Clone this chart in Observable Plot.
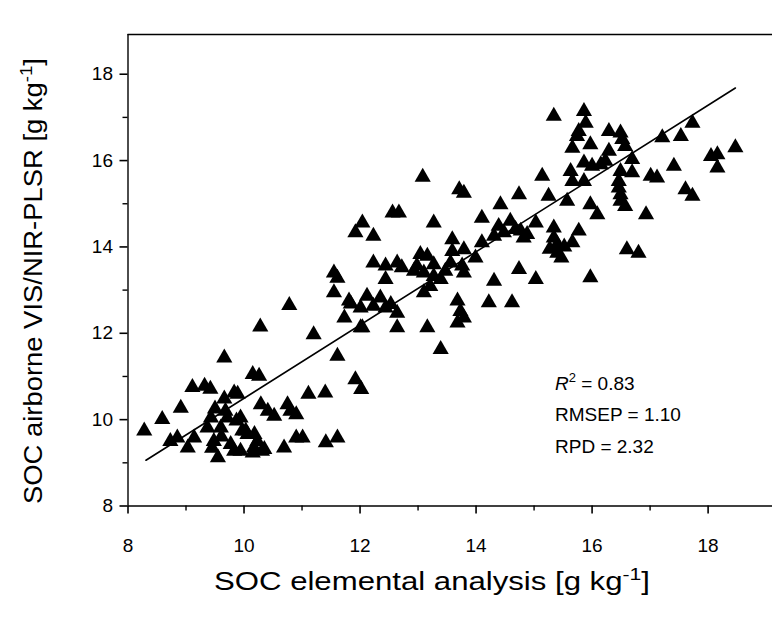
<!DOCTYPE html>
<html><head><meta charset="utf-8">
<script src="https://cdn.jsdelivr.net/npm/d3@7"></script>
<script src="https://cdn.jsdelivr.net/npm/@observablehq/plot@0.6"></script>
<style>body{margin:0;background:#fff;} svg{display:block;}</style>
</head><body><div id="chart"></div>
<script>
// SOC elemental analysis (x) vs airborne VIS/NIR-PLSR prediction (y), g/kg
const socElemental = [
8.28,8.59,8.91,9.11,9.32,9.42,9.66,9.66,9.83,8.85,9.03,9.14,9.37,9.43,9.48,9.55,9.60,9.71,9.77,9.83,9.97,9.45,9.68,9.87,9.61,9.50,8.73,
10.28,10.15,10.26,9.89,10.29,10.41,10.52,10.75,10.80,10.90,9.94,10.03,10.18,10.23,10.31,10.15,9.94,10.06,10.17,10.35,10.69,10.90,11.01,11.41,11.61,11.11,11.40,11.61,11.92,12.02,10.78,11.20,
11.73,11.84,12.01,11.55,11.61,11.55,11.81,12.12,12.35,12.01,12.23,12.44,12.53,12.64,12.04,12.64,13.16,13.39,12.23,12.44,12.64,12.72,12.98,12.44,12.93,13.10,13.27,13.39,13.21,13.10,13.04,13.16,13.27,13.56,13.76,13.79,13.47,13.59,13.79,13.59,13.99,14.10,14.31,12.04,11.92,12.23,12.56,12.67,13.27,13.08,13.71,13.79,14.10,14.42,14.74,14.39,14.59,14.48,14.68,14.82,13.68,13.73,13.79,13.68,14.22,14.62,14.31,14.74,15.03,15.97,
15.14,15.25,15.57,15.97,16.09,15.34,15.86,15.89,15.77,15.74,16.29,16.49,16.52,16.57,15.66,15.97,16.29,16.69,17.21,17.53,17.73,15.86,16.00,16.15,16.23,15.63,15.66,15.86,16.49,16.69,16.46,16.46,16.49,16.49,16.57,17.01,17.12,17.41,18.05,18.16,18.16,17.61,17.73,16.93,15.03,15.34,14.88,15.34,15.40,15.77,15.66,15.40,16.60,16.80,14.77,15.47,15.52,15.27,18.47
];
const socPredicted = [
9.74,10.01,10.27,10.75,10.78,10.71,11.43,10.48,10.62,9.58,9.35,9.58,9.81,10.04,9.50,9.12,9.81,10.04,9.43,9.27,9.74,9.34,10.20,9.97,9.60,10.25,9.50,
12.15,11.05,11.01,10.59,10.35,10.20,10.08,10.35,10.20,10.12,10.04,9.74,9.66,9.50,9.27,9.23,9.27,9.66,9.35,9.31,9.35,9.58,9.58,9.47,9.58,10.59,10.62,11.47,10.93,10.70,12.65,11.97,
12.36,12.68,12.13,13.40,13.28,12.94,12.75,12.86,12.82,12.59,12.63,12.59,12.67,12.47,12.13,12.13,12.13,11.63,13.63,13.56,13.63,13.52,13.56,13.25,13.44,13.40,13.32,13.25,13.09,12.94,13.83,13.79,13.59,13.63,13.56,13.40,13.44,14.17,13.94,13.90,13.75,14.10,14.25,14.56,14.33,14.25,14.79,14.79,14.56,15.62,15.33,15.25,14.67,14.98,15.21,14.48,14.60,14.33,14.41,14.21,12.75,12.51,12.36,12.24,12.71,12.71,13.21,13.48,13.25,13.29,
15.64,15.18,15.06,14.98,14.75,17.03,17.14,16.87,16.68,16.56,16.68,16.64,16.49,16.33,16.29,16.37,16.22,16.03,16.53,16.56,16.87,15.95,15.87,15.91,15.99,15.75,15.52,15.52,15.75,15.72,15.52,15.37,15.21,15.06,14.94,15.64,15.60,15.87,16.10,16.14,15.83,15.33,15.18,14.75,14.56,14.44,14.29,14.21,14.06,14.37,14.10,13.86,13.94,13.86,14.37,13.75,14.00,13.95,16.30
];
// fitted calibration line
const fitX = [8.31, 18.47];
const fitY = [9.06, 17.68];
const xTicks = [8, 10, 12, 14, 16, 18];
const yTicks = [8, 10, 12, 14, 16, 18];
const xMinor = [9, 11, 13, 15, 17];
const yMinor = [9, 11, 13, 15, 17];
const xDomain = [8, 19.11];
const yDomain = [8, 18.92];
const statLabels = ["RMSEP = 1.10", "RPD = 2.32"];
const r2Value = "0.83";

const points = socElemental.map((x, i) => ({x, y: socPredicted[i]}));
const fit = fitX.map((x, i) => ({x, y: fitY[i]}));

const font = "'Liberation Sans', Arial, Helvetica, sans-serif";
const chart = Plot.plot({
  width: 772, height: 625,
  marginLeft: 127.5, marginRight: 0, marginTop: 34, marginBottom: 119.5,
  x: {domain: xDomain},
  y: {domain: yDomain},
  style: {fontFamily: font, fontSize: "19px", color: "black", background: "white"},
  marks: [
    Plot.ruleX([xDomain[0]], {stroke: "black", strokeWidth: 1.4}),
    Plot.ruleY([yDomain[0]], {stroke: "black", strokeWidth: 1.4}),
    Plot.ruleY([yDomain[1]], {stroke: "black", strokeWidth: 1.4}),
    Plot.axisX({ticks: xTicks, tickSize: 8, tickPadding: 24, label: null, fontSize: 19, strokeWidth: 1.6}),
    Plot.axisX({ticks: xMinor, tickSize: 5, tickFormat: () => "", label: null, strokeWidth: 1.4}),
    Plot.axisY({ticks: yTicks, tickSize: 8, tickPadding: 7, label: null, fontSize: 19, strokeWidth: 1.6}),
    Plot.axisY({ticks: yMinor, tickSize: 5, tickFormat: () => "", label: null, strokeWidth: 1.4}),
    Plot.line(fit, {x: "x", y: "y", stroke: "black", strokeWidth: 1.6}),
    Plot.dot(points, {x: "x", y: "y", symbol: "triangle", r: 6, fill: "black", stroke: "none"})
  ]
});
document.getElementById("chart").appendChild(chart);

const svg = d3.select(chart);
// axis titles
const xt = svg.append("text").attr("x", 432).attr("y", 590).attr("text-anchor", "middle")
  .attr("font-family", font).attr("font-size", 25).attr("fill", "black")
  .attr("textLength", 436).attr("lengthAdjust", "spacingAndGlyphs");
xt.append("tspan").text("SOC elemental analysis [g kg");
xt.append("tspan").attr("dy", -10).attr("font-size", 17).text("-1");
xt.append("tspan").attr("dy", 10).text("]");

const yt = svg.append("text").attr("transform", "translate(42,281) rotate(-90)").attr("text-anchor", "middle")
  .attr("font-family", font).attr("font-size", 25).attr("fill", "black")
  .attr("textLength", 446).attr("lengthAdjust", "spacingAndGlyphs");
yt.append("tspan").text("SOC airborne VIS/NIR-PLSR [g kg");
yt.append("tspan").attr("dy", -10).attr("font-size", 17).text("-1");
yt.append("tspan").attr("dy", 10).text("]");

// statistics annotation
const ann = svg.append("g").attr("font-family", font).attr("font-size", 19).attr("fill", "black").attr("text-anchor", "start");
const r2 = ann.append("text").attr("x", 555).attr("y", 390);
r2.append("tspan").attr("font-style", "italic").text("R");
r2.append("tspan").attr("dy", -8).attr("font-size", 13).text("2");
r2.append("tspan").attr("dy", 8).text(" = " + r2Value);
statLabels.forEach((s, i) => ann.append("text").attr("x", 555).attr("y", 421 + 32 * i).text(s));
</script>
</body></html>
